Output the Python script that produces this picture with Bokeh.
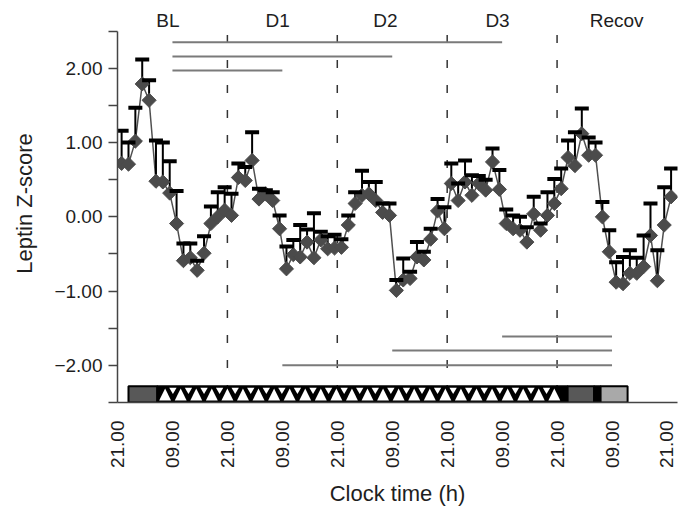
import numpy as np
from bokeh.plotting import figure
from bokeh.models import ColumnDataSource, FixedTicker, LabelSet, Range1d
from bokeh.core.properties import value
from bokeh.embed import file_html
from bokeh.resources import INLINE

# sampling times (hours after 21.00 on the first evening)
hours = [0.9, 2.4, 3.9, 5.4, 6.9, 8.4, 9.9, 11.4, 12.9, 14.4,
         15.9, 17.4, 18.9, 20.4, 21.9, 23.4, 24.9, 26.4, 27.9, 29.4,
         30.9, 32.4, 33.9, 35.4, 36.9, 38.4, 39.9, 41.4, 42.9, 44.4,
         45.9, 47.4, 48.9, 50.4, 51.9, 53.4, 54.9, 56.4, 57.9, 59.4,
         60.9, 62.4, 63.9, 65.4, 66.9, 68.4, 69.9, 71.4, 72.9, 74.4,
         75.9, 77.4, 78.9, 80.4, 81.9, 83.4, 84.9, 86.4, 87.9, 89.4,
         90.9, 92.4, 93.9, 95.4, 96.9, 98.4, 99.9, 101.4, 102.9, 104.4,
         105.9, 107.4, 108.9, 110.4, 111.9, 113.4, 114.9, 116.4, 117.9, 119.4,
         120.9]

leptin = [0.72, 0.71, 1.02, 1.79, 1.57, 0.48, 0.47, 0.32, -0.09, -0.59,
          -0.55, -0.72, -0.49, -0.09, 0.00, 0.09, 0.02, 0.53, 0.49, 0.76,
          0.24, 0.31, 0.22, -0.16, -0.70, -0.51, -0.54, -0.34, -0.55, -0.31,
          -0.43, -0.42, -0.41, -0.11, 0.18, 0.29, 0.31, 0.22, 0.06, 0.02,
          -0.99, -0.85, -0.83, -0.54, -0.58, -0.30, 0.08, -0.16, 0.45, 0.22,
          0.47, 0.29, 0.45, 0.36, 0.74, 0.37, -0.09, -0.16, -0.18, -0.34,
          0.04, -0.18, 0.02, 0.18, 0.38, 0.80, 0.69, 1.12, 0.83, 0.83,
          0.00, -0.47, -0.88, -0.90, -0.76, -0.76, -0.67, -0.25, -0.86, -0.11,
          0.27]

leptin_upper = [1.16, 1.00, 1.47, 2.12, 1.84, 1.03, 1.00, 0.75, 0.35, -0.36,
                -0.36, -0.59, -0.26, 0.14, 0.33, 0.40, 0.31, 0.72, 0.67, 1.14,
                0.38, 0.36, 0.33, 0.02, -0.40, -0.31, -0.11, -0.17, 0.05, -0.20,
                -0.26, -0.24, -0.30, 0.02, 0.33, 0.62, 0.47, 0.47, 0.18, 0.18,
                -0.85, -0.56, -0.74, -0.34, -0.47, -0.16, 0.24, 0.13, 0.72, 0.45,
                0.76, 0.56, 0.55, 0.50, 0.92, 0.63, 0.10, 0.02, 0.00, -0.14,
                0.27, -0.09, 0.33, 0.51, 0.65, 1.03, 1.14, 1.46, 1.07, 1.00,
                0.20, -0.18, -0.61, -0.54, -0.45, -0.55, -0.25, 0.18, -0.45, 0.40,
                0.65]

x_ticks = [0, 12, 24, 36, 48, 60, 72, 84, 96, 108, 120]
x_tick_labels = ["21.00", "09.00", "21.00", "09.00", "21.00", "09.00",
                 "21.00", "09.00", "21.00", "09.00", "21.00"]
y_ticks = [-2, -1, 0, 1, 2]
y_tick_labels = ["\u22122.00", "\u22121.00", "0.00", "1.00", "2.00"]
y_minor_ticks = [-2.5, -1.5, -0.5, 0.5, 1.5, 2.5]

period_names = ["BL", "D1", "D2", "D3", "Recov"]
period_centers = [11, 35, 58.5, 83, 109]
day_boundaries = [24, 48, 72, 96]

top_sig_start = [12, 12, 12]
top_sig_end = [84, 60, 36]
top_sig_level = [2.35, 2.16, 1.97]
bottom_sig_start = [84, 60, 36]
bottom_sig_end = [108, 108, 108]
bottom_sig_level = [-1.61, -1.80, -2.00]

bar_left = [2.4, 8.7, 98.3, 104.1, 105.5]
bar_right = [8.7, 98.3, 104.1, 105.5, 111.4]
bar_colors = ["#585858", "#000000", "#585858", "#000000", "#a9a9a9"]

FONT = "Liberation Sans"
FS = "19px"
FS_AX = "22px"
TXT = "#1e1e1e"

p = figure(frame_width=560, frame_height=398,
           x_range=Range1d(0, 122.3), y_range=Range1d(-2.5, 2.86),
           output_backend="svg", toolbar_location=None,
           min_border_left=117, min_border_right=12,
           min_border_top=4, min_border_bottom=110)
p.outline_line_color = None
p.xgrid.visible = False
p.ygrid.visible = False
p.background_fill_color = "white"

# axes
xa = p.xaxis[0]
xa.ticker = FixedTicker(ticks=x_ticks)
xa.major_label_overrides = dict(zip(x_ticks, x_tick_labels))
xa.major_label_orientation = np.pi / 2
xa.major_tick_out = 0
xa.major_tick_in = 0
xa.minor_tick_out = 0
xa.minor_tick_in = 0
xa.axis_line_color = "#444444"
xa.axis_line_width = 1.5
xa.major_label_standoff = 18
xa.major_label_text_font = FONT
xa.major_label_text_font_size = FS
xa.major_label_text_color = TXT
xa.axis_label = "Clock time (h)"
xa.axis_label_text_font = FONT
xa.axis_label_text_font_size = FS_AX
xa.axis_label_text_font_style = "normal"
xa.axis_label_text_color = TXT
xa.axis_label_standoff = 10

ya = p.yaxis[0]
ya.bounds = (-2.5, 2.5)
ya.ticker = FixedTicker(ticks=y_ticks, minor_ticks=y_minor_ticks)
ya.major_label_overrides = dict(zip(y_ticks, y_tick_labels))
ya.major_tick_out = 9
ya.major_tick_in = 0
ya.minor_tick_out = 9
ya.minor_tick_in = 0
ya.major_tick_line_color = "#444444"
ya.minor_tick_line_color = "#444444"
ya.major_tick_line_width = 1.5
ya.minor_tick_line_width = 1.5
ya.axis_line_color = "#444444"
ya.axis_line_width = 1.5
ya.major_label_standoff = 6
ya.major_label_text_font = FONT
ya.major_label_text_font_size = FS
ya.major_label_text_color = TXT
ya.axis_label = "Leptin Z-score"
ya.axis_label_text_font = FONT
ya.axis_label_text_font_size = FS_AX
ya.axis_label_text_font_style = "normal"
ya.axis_label_text_color = TXT
ya.axis_label_standoff = 14

# day boundaries (dashed)
p.segment(x0=day_boundaries, y0=[2.45] * len(day_boundaries),
          x1=day_boundaries, y1=[-2.28] * len(day_boundaries),
          line_color="#333333", line_width=1.5, line_dash="8 17")

# significance lines
p.segment(x0=top_sig_start, y0=top_sig_level, x1=top_sig_end, y1=top_sig_level,
          line_color="#7a7a7a", line_width=2)
p.segment(x0=bottom_sig_start, y0=bottom_sig_level, x1=bottom_sig_end, y1=bottom_sig_level,
          line_color="#7a7a7a", line_width=2)

# condition bar
p.quad(left=bar_left, right=bar_right, bottom=[-2.5] * len(bar_left),
       top=[-2.28] * len(bar_left), fill_color=bar_colors,
       line_color="black", line_width=2)
# triangle pattern of the sleep-deprivation segment
pat_start, pat_end = bar_left[1], bar_right[1]
period = 3.4
n_tri = int((pat_end - pat_start) / period)
tri_xs, tri_ys = [], []
for k in range(n_tri):
    c = pat_start + period * (k + 0.5)
    tri_xs.append([c - 1.3, c + 1.3, c])
    tri_ys.append([-2.472, -2.472, -2.31])
    if k < n_tri - 1:
        d = c + period / 2
        tri_xs.append([d - 0.8, d + 0.8, d])
        tri_ys.append([-2.300, -2.300, -2.385])
p.patches(tri_xs, tri_ys, fill_color="white", line_color=None)

# data
src = ColumnDataSource(dict(h=hours, v=leptin, u=leptin_upper))
p.line("h", "v", source=src, line_color="#505050", line_width=1.5)
p.segment(x0="h", y0="v", x1="h", y1="u", source=src, line_color="black", line_width=2)
p.scatter("h", "v", source=src, marker="square", angle=np.pi / 4, size=10,
          fill_color="#4b4b4b", line_color="#4b4b4b")
p.scatter("h", "u", source=src, marker="dash", size=14, line_color="black", line_width=4)

# period labels
lab_src = ColumnDataSource(dict(x=period_centers, y=[2.64] * len(period_centers), t=period_names))
p.add_layout(LabelSet(x="x", y="y", text="t", source=lab_src, text_align="center",
                      text_baseline="middle", text_font=value(FONT), text_font_size=value(FS),
                      text_color=TXT))

open("out.html", "w").write(file_html(p, INLINE))
